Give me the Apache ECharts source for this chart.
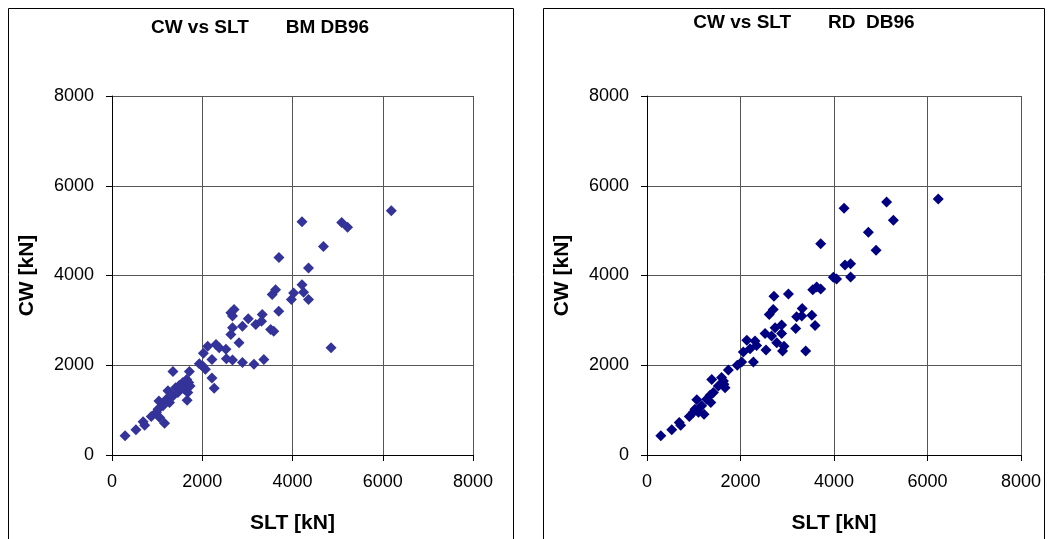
<!DOCTYPE html>
<html>
<head>
<meta charset="utf-8">
<script src="https://cdn.jsdelivr.net/npm/echarts@6/dist/echarts.min.js"></script>
<style>
  html, body { margin: 0; padding: 0; background: #fff; }
  #chart { width: 1049px; height: 539px; }
</style>
</head>
<body>
<div id="chart"></div>
<script>
// tick labels shared by both panels
const ticks = [0, 2000, 4000, 6000, 8000]

// BM DB96 : SLT / CW pairs
const sltBM = [290, 530, 690, 725, 870, 985, 1020, 1040, 1055, 1165, 1130, 1240, 1205, 1275, 1350, 1350, 1410, 1460, 1495, 1570,
  1605, 1655, 1680, 1665, 1715, 1730, 1700, 1935, 2010, 2025, 2070, 2120, 2215, 2215, 2265, 2305, 2375, 2525, 2535, 2670,
  2635, 2670, 2815, 2635, 2705, 2670, 2890, 2890, 3020, 3145, 3185, 3330, 3315, 3365, 3515, 3585, 3550, 3625, 3695, 3700,
  3975, 4025, 4210, 5090, 5220, 4685, 4355, 6190, 4210, 4245, 4355, 4855]
const cwBM = [430, 560, 740, 665, 860, 950, 1020, 1205, 835, 710, 1095, 1430, 1245, 1170, 1860, 1315, 1500, 1390, 1555, 1615,
  1465, 1685, 1390, 1220, 1860, 1540, 1615, 2035, 1985, 2265, 1910, 2425, 2130, 1715, 1485, 2465, 2390, 2355, 2145, 2115,
  2685, 2835, 2500, 3170, 3240, 3095, 2870, 2060, 3035, 2020, 2910, 3130, 2980, 2130, 2795, 2760, 3575, 3685, 3205, 4400,
  3465, 3610, 5200, 5180, 5075, 4645, 4165, 5445, 3795, 3625, 3465, 2390]

// RD DB96
const sltRD = [295, 530, 690, 720, 905, 990, 1025, 1065, 1100, 1220, 1170, 1275, 1350, 1385, 1420, 1365, 1525, 1595, 1635, 1670,
  1645, 1740, 1930, 2025, 2060, 2135, 2205, 2275, 2310, 2345, 2545, 2525, 2615, 2700, 2715, 2665, 2740, 2775, 2880, 2880,
  2930, 2900, 3025, 3180, 3200, 3320, 3310, 3395, 3525, 3595, 3545, 3630, 3715, 3715, 4215, 5125, 5270, 4735, 4900, 6230,
  4235, 4355, 3985, 4055, 4355]
const cwRD = [430, 560, 725, 665, 860, 950, 1020, 1230, 950, 910, 1095, 1245, 1330, 1685, 1390, 1170, 1540, 1725, 1650, 1500,
  1575, 1895, 2000, 2070, 2295, 2555, 2370, 2070, 2540, 2440, 2340, 2710, 3130, 3240, 3535, 2650, 2835, 2500, 2895, 2710,
  2425, 2315, 3590, 2820, 3080, 3265, 3095, 2315, 3115, 2885, 3685, 3745, 3700, 4705, 5500, 5640, 5230, 4965, 4565, 5705,
  4235, 4260, 3960, 3920, 3965]

const pairs = (xs, ys) => xs.map((x, i) => [x, ys[i]])

const font = '"Liberation Sans", Arial, sans-serif'

function xAx(gridIndex) {
  return {
    gridIndex, type: 'value', min: ticks[0], max: ticks[ticks.length - 1], interval: 2000,
    name: 'SLT [kN]', nameLocation: 'middle', nameGap: 58,
    nameTextStyle: { fontFamily: font, fontSize: 21, fontWeight: 'bold', color: '#000' },
    axisLine: { show: true, onZero: false, lineStyle: { color: '#000', width: 1 } },
    axisTick: { show: true, length: 6, lineStyle: { color: '#000' } },
    axisLabel: { margin: 18, fontFamily: font, fontSize: 18, color: '#000', formatter: v => String(v) },
    splitLine: { show: true, lineStyle: { color: '#555', width: 1 } }
  }
}

function yAx(gridIndex) {
  return {
    gridIndex, type: 'value', min: ticks[0], max: ticks[ticks.length - 1], interval: 2000,
    name: 'CW [kN]', nameLocation: 'middle', nameGap: 74, nameRotate: 90,
    nameTextStyle: { fontFamily: font, fontSize: 21, fontWeight: 'bold', color: '#000' },
    axisLine: { show: true, onZero: false, lineStyle: { color: '#000', width: 1 } },
    axisTick: { show: true, length: 6, lineStyle: { color: '#000' } },
    axisLabel: { margin: 18, fontFamily: font, fontSize: 18, color: '#000', formatter: v => String(v) },
    splitLine: { show: true, lineStyle: { color: '#555', width: 1 } }
  }
}

const myChart = echarts.init(document.getElementById('chart'))
const option = {
  animation: false,
  backgroundColor: '#fff',
  title: [
    {
      text: 'CW vs SLT       BM DB96', left: 260, top: 18, textAlign: 'center', padding: 0,
      textStyle: { fontFamily: font, fontSize: 19, fontWeight: 'bold', color: '#000' }
    },
    {
      text: 'CW vs SLT       RD  DB96', left: 804, top: 13, textAlign: 'center', padding: 0,
      textStyle: { fontFamily: font, fontSize: 19, fontWeight: 'bold', color: '#000' }
    }
  ],
  graphic: [
    { type: 'rect', shape: { x: 8.5, y: 8.5, width: 505, height: 560 }, style: { fill: 'none', stroke: '#000', lineWidth: 1 }, z: -1 },
    { type: 'rect', shape: { x: 543.5, y: 8.5, width: 501, height: 560 }, style: { fill: 'none', stroke: '#000', lineWidth: 1 }, z: -1 }
  ],
  grid: [
    { left: 112, top: 96, width: 361, height: 360 },
    { left: 647, top: 96, width: 374, height: 360 }
  ],
  xAxis: [xAx(0), xAx(1)],
  yAxis: [yAx(0), yAx(1)],
  series: [
    {
      type: 'scatter', xAxisIndex: 0, yAxisIndex: 0, symbol: 'diamond', symbolSize: 11,
      itemStyle: { color: '#333399', opacity: 1 }, data: pairs(sltBM, cwBM)
    },
    {
      type: 'scatter', xAxisIndex: 1, yAxisIndex: 1, symbol: 'diamond', symbolSize: 11,
      itemStyle: { color: '#000080', opacity: 1 }, data: pairs(sltRD, cwRD)
    }
  ]
}
myChart.setOption(option)
</script>
</body>
</html>
